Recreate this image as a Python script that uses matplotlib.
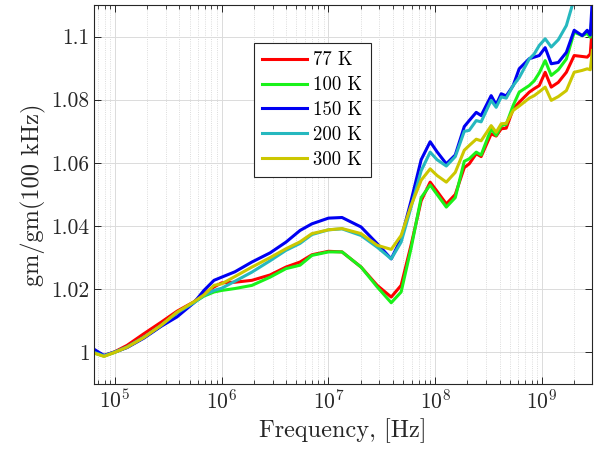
import numpy as np
import matplotlib
matplotlib.use("Agg")
import matplotlib.pyplot as plt
from matplotlib.ticker import LogLocator, FixedLocator, FuncFormatter, NullFormatter

plt.rcParams['font.family'] = 'cmr10'
plt.rcParams['mathtext.fontset'] = 'cm'
plt.rcParams['axes.formatter.use_mathtext'] = True

# frequency grid, Hz
freq = [6.35e4, 7.9e4, 1.0e5, 1.3e5, 1.87e5, 2.7e5, 3.81e5, 5.5e5, 6.82e5, 8.47e5,
        1.0e6, 1.33e6, 1.92e6, 2.84e6, 4.0e6, 5.42e6, 7.0e6, 1.0e7, 1.34e7, 2.02e7,
        2.86e7, 3.87e7, 4.79e7, 5.94e7, 7.38e7, 8.96e7, 1.04e8, 1.27e8, 1.54e8, 1.87e8,
        2.08e8, 2.42e8, 2.69e8, 3.34e8, 3.72e8, 4.15e8, 4.62e8, 5.37e8, 6.11e8, 7.59e8,
        8.45e8, 9.42e8, 1.07e9, 1.22e9, 1.42e9, 1.69e9, 2.0e9, 2.38e9, 2.65e9, 2.83e9,
        2.96e9]

gm_77 = [1.0000, 0.9990, 1.0002, 1.0022, 1.0059, 1.0095, 1.0130, 1.0160, 1.0185, 1.0207,
         1.0220, 1.0222, 1.0228, 1.0245, 1.0270, 1.0286, 1.0309, 1.0320, 1.0318, 1.0270,
         1.0212, 1.0175, 1.0212, 1.0340, 1.0480, 1.0539, 1.0510, 1.0470, 1.0500, 1.0585,
         1.0597, 1.0629, 1.0620, 1.0692, 1.0685, 1.0708, 1.0710, 1.0771, 1.0792, 1.0824,
         1.0835, 1.0845, 1.0887, 1.0840, 1.0855, 1.0887, 1.0940, 1.0937, 1.0935, 1.0945,
         1.1035]

gm_100 = [0.9998, 0.9988, 1.0000, 1.0016, 1.0047, 1.0083, 1.0125, 1.0158, 1.0178, 1.0191,
          1.0196, 1.0202, 1.0212, 1.0238, 1.0265, 1.0276, 1.0307, 1.0318, 1.0318, 1.0270,
          1.0207, 1.0157, 1.0191, 1.0330, 1.0490, 1.0530, 1.0500, 1.0460, 1.0490, 1.0605,
          1.0613, 1.0634, 1.0625, 1.0708, 1.0687, 1.0718, 1.0722, 1.0782, 1.0824, 1.0845,
          1.0860, 1.0885, 1.0924, 1.0877, 1.0895, 1.0929, 1.1014, 1.1003, 1.1010, 1.0998,
          1.1077]

gm_150 = [1.0010, 0.9990, 1.0001, 1.0015, 1.0045, 1.0082, 1.0112, 1.0157, 1.0196, 1.0228,
          1.0238, 1.0255, 1.0286, 1.0315, 1.0349, 1.0386, 1.0407, 1.0425, 1.0427, 1.0397,
          1.0344, 1.0296, 1.0360, 1.0480, 1.0610, 1.0667, 1.0635, 1.0597, 1.0625, 1.0715,
          1.0734, 1.0760, 1.0750, 1.0813, 1.0784, 1.0819, 1.0812, 1.0845, 1.0898, 1.0930,
          1.0935, 1.0940, 1.0965, 1.0914, 1.0918, 1.0950, 1.1020, 1.1003, 1.1020, 1.1005,
          1.1120]

gm_200 = [1.0000, 0.9989, 1.0001, 1.0017, 1.0048, 1.0085, 1.0125, 1.0157, 1.0180, 1.0196,
          1.0203, 1.0225, 1.0254, 1.0290, 1.0323, 1.0345, 1.0373, 1.0388, 1.0391, 1.0370,
          1.0333, 1.0296, 1.0349, 1.0460, 1.0575, 1.0634, 1.0610, 1.0590, 1.0620, 1.0700,
          1.0703, 1.0734, 1.0730, 1.0798, 1.0776, 1.0809, 1.0805, 1.0845, 1.0870, 1.0929,
          1.0945, 1.0972, 1.0993, 1.0967, 1.0990, 1.1035, 1.1120, 1.1180, 1.1200, 1.1200,
          1.1200]

gm_300 = [0.9998, 0.9987, 1.0000, 1.0016, 1.0047, 1.0085, 1.0127, 1.0160, 1.0182, 1.0212,
          1.0217, 1.0240, 1.0270, 1.0300, 1.0328, 1.0350, 1.0376, 1.0388, 1.0392, 1.0376,
          1.0339, 1.0326, 1.0370, 1.0465, 1.0545, 1.0581, 1.0560, 1.0539, 1.0570, 1.0640,
          1.0655, 1.0675, 1.0670, 1.0718, 1.0697, 1.0724, 1.0725, 1.0766, 1.0780, 1.0805,
          1.0813, 1.0825, 1.0840, 1.0798, 1.0810, 1.0829, 1.0887, 1.0893, 1.0898, 1.0895,
          1.0956]

labels = ['77 K', '100 K', '150 K', '200 K', '300 K']
colors = [(1.0, 0.0, 0.0), (0.1, 0.95, 0.1), (0.0, 0.0, 0.95),
          (0.15, 0.72, 0.75), (0.8, 0.78, 0.0)]
series = [gm_77, gm_100, gm_150, gm_200, gm_300]

fig = plt.figure(figsize=(6.0, 4.57), dpi=100)
ax = fig.add_axes([0.157, 0.160, 0.830, 0.829])

for y, c, lab in zip(series, colors, labels):
    ax.plot(freq, y, color=c, lw=2.2, label=lab)

ax.set_xscale('log')
ax.set_xlim(6.4e4, 2.95e9)
ax.set_ylim(0.99, 1.11)
ax.xaxis.set_major_locator(LogLocator(base=10, numticks=20))
ax.xaxis.set_minor_locator(LogLocator(base=10, subs=np.arange(2, 10), numticks=100))
ax.xaxis.set_minor_formatter(NullFormatter())
ax.yaxis.set_major_locator(FixedLocator([1.0, 1.02, 1.04, 1.06, 1.08, 1.1]))
ax.yaxis.set_major_formatter(FuncFormatter(lambda v, p: '%g' % round(v, 3)))

dark = (0.15, 0.15, 0.15)
ax.grid(True, which='major', color=(0.86, 0.86, 0.86), lw=0.7)
ax.grid(True, which='minor', axis='x', color=(0.82, 0.82, 0.82), lw=0.6, ls=':')
ax.set_axisbelow(True)
ax.tick_params(which='both', direction='in', top=True, right=True, colors=dark,
               labelsize=15.5)
ax.tick_params(which='major', length=5, width=0.7)
ax.tick_params(which='minor', length=3, width=0.6)
for s in ax.spines.values():
    s.set_color(dark)
    s.set_linewidth(0.8)

ax.set_xlabel('Frequency, [Hz]', fontsize=17.5, color=dark)
ax.set_ylabel('gm/gm(100 kHz)', fontsize=17.5, color=dark)

leg = ax.legend(loc='upper left', bbox_to_anchor=(0.321, 0.900), borderaxespad=0,
                fontsize=13.5, handlelength=2.4, handletextpad=0.3, labelspacing=0.37,
                borderpad=0.45, fancybox=False, framealpha=1)
leg.get_frame().set_edgecolor(dark)
leg.get_frame().set_linewidth(0.8)

fig.savefig('out.png', dpi=100)
